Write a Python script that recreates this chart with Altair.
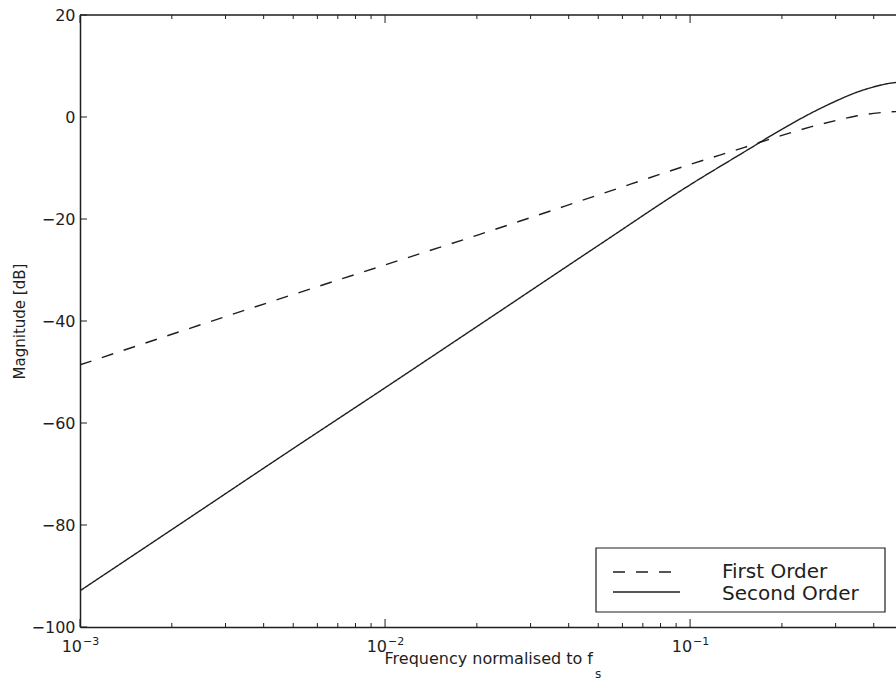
import altair as alt
import pandas as pd

# Magnitude responses (dB) sampled at normalised frequencies f / fs
freq = [0.001, 0.002, 0.005, 0.01, 0.02, 0.05, 0.1, 0.15, 0.2, 0.25, 0.3, 0.35, 0.4, 0.45, 0.5]
first_order = [-48.6, -42.6, -34.8, -29.0, -23.2, -15.3, -9.3, -6.0, -3.6, -1.9, -0.7, 0.2, 0.7, 1.0, 1.1]
second_order = [-92.9, -80.9, -65.0, -53.1, -41.1, -25.2, -13.3, -6.9, -2.4, 0.8, 3.1, 4.8, 5.9, 6.6, 6.9]
series_names = ["First Order", "Second Order"]

# Axis ticks
y_ticks = [-100, -80, -60, -40, -20, 0, 20]
decades = [0.001, 0.01, 0.1]
decade_exponents = ["\u22123", "\u22122", "\u22121"]
x_max = 0.4732
minor_ticks = [m * d for d in decades for m in range(2, 10) if m * d <= x_max]

W, H = 816, 612
INK = "#1e1e1e"
FONT = "DejaVu Sans"

df = pd.DataFrame({
    "f": freq * 2,
    "dB": first_order + second_order,
    "series": [series_names[0]] * len(freq) + [series_names[1]] * len(freq),
})

xs = alt.Scale(type="log", domain=[0.001, x_max], nice=False)
ys = alt.Scale(domain=[-100, 20], nice=False, zero=False)

x_axis = alt.Axis(labels=False, ticks=False, grid=False, title=None,
                  domainColor=INK, domainWidth=1.5)
y_axis = alt.Axis(values=y_ticks, ticks=False, grid=False, labelFlush=False,
                  labelOverlap=False, labelFont=FONT, labelFontSize=16,
                  labelColor=INK, labelPadding=5, domainColor=INK, domainWidth=1.5,
                  title="Magnitude [dB]", titleFont=FONT, titleFontSize=15,
                  titleFontWeight="normal", titleColor=INK, titleAngle=-90,
                  titleX=-61, titleY=H / 2, titleAlign="center",
                  titleBaseline="middle")


def xf(field="f"):
    return alt.X(f"{field}:Q", scale=xs, axis=x_axis)


def yf(field):
    return alt.Y(f"{field}:Q", scale=ys, axis=y_axis)


dash_scale = alt.Scale(domain=series_names, range=[[12, 11], [1, 0]])

lines = alt.Chart(df).mark_line(
    clip=True, strokeWidth=1.4, color=INK, interpolate="monotone").encode(
    x=xf(), y=yf("dB"),
    strokeDash=alt.StrokeDash("series:N", scale=dash_scale, legend=None),
)

# Frame: top border
top_df = pd.DataFrame({"v": [20]})
top_border = alt.Chart(top_df).mark_rule(color=INK, strokeWidth=1.5).encode(
    y=yf("v"), x=alt.value(0), x2=alt.value(W))

# Inward y ticks
ytick_df = pd.DataFrame({"v": y_ticks})
y_tick_marks = alt.Chart(ytick_df).mark_rule(color=INK, strokeWidth=1).encode(
    y=yf("v"), x=alt.value(0), x2=alt.value(7))

# Inward x ticks, bottom and top
major_df = pd.DataFrame({"f": decades, "exp": decade_exponents})
minor_df = pd.DataFrame({"f": minor_ticks})


def xticks(data, length):
    base = alt.Chart(data).mark_rule(color=INK, strokeWidth=1)
    return (base.encode(x=xf(), y=alt.value(H), y2=alt.value(H - length)) +
            base.encode(x=xf(), y=alt.value(0), y2=alt.value(length)))


x_major = xticks(major_df, 8)
x_minor = xticks(minor_df, 4)

# Decade labels 10^n
lbl_base = alt.Chart(major_df).mark_text(
    text="10", align="right", baseline="alphabetic", dx=2,
    font=FONT, fontSize=16, color=INK).encode(x=xf(), y=alt.value(637))
lbl_exp = alt.Chart(major_df).mark_text(
    align="left", baseline="alphabetic", dx=3,
    font=FONT, fontSize=11, color=INK).encode(x=xf(), y=alt.value(630), text="exp:N")

# X title with subscript
title_df = pd.DataFrame({"t": ["Frequency normalised to f"], "s": ["s"]})
x_title = alt.Chart(title_df).mark_text(
    align="right", baseline="alphabetic", font=FONT, fontSize=16, color=INK
).encode(text="t:N", x=alt.value(513), y=alt.value(649))
x_title_sub = alt.Chart(title_df).mark_text(
    align="left", baseline="alphabetic", font=FONT, fontSize=12, color=INK
).encode(text="s:N", x=alt.value(515), y=alt.value(663))

# Legend box
box_df = pd.DataFrame({"k": [0]})
legend_box = alt.Chart(box_df).mark_rect(
    fill="white", stroke=INK, strokeWidth=1.2).encode(
    x=alt.value(516), x2=alt.value(805), y=alt.value(533), y2=alt.value(597))

leg1 = pd.DataFrame({"name": [series_names[0]]})
leg2 = pd.DataFrame({"name": [series_names[1]]})
leg_line1 = alt.Chart(leg1).mark_rule(color=INK, strokeWidth=1.4, strokeDash=[12, 11]).encode(
    x=alt.value(533), x2=alt.value(591), y=alt.value(557))
leg_line2 = alt.Chart(leg2).mark_rule(color=INK, strokeWidth=1.4).encode(
    x=alt.value(533), x2=alt.value(600), y=alt.value(577))
leg_txt1 = alt.Chart(leg1).mark_text(
    align="left", baseline="alphabetic", font=FONT, fontSize=20, color=INK
).encode(text="name:N", x=alt.value(642), y=alt.value(563))
leg_txt2 = alt.Chart(leg2).mark_text(
    align="left", baseline="alphabetic", font=FONT, fontSize=20, color=INK
).encode(text="name:N", x=alt.value(642), y=alt.value(585))

chart = alt.layer(
    lines, top_border, y_tick_marks, x_major, x_minor, lbl_base, lbl_exp,
    x_title, x_title_sub, legend_box, leg_line1, leg_line2, leg_txt1, leg_txt2,
).properties(
    width=W, height=H,
    autosize=alt.AutoSizeParams(type="none"),
    padding={"left": 80, "top": 15, "right": 0, "bottom": 54},
    background="white",
).configure_view(stroke=None)

chart.save("out.html", embed_options={"renderer": "svg", "actions": False})
